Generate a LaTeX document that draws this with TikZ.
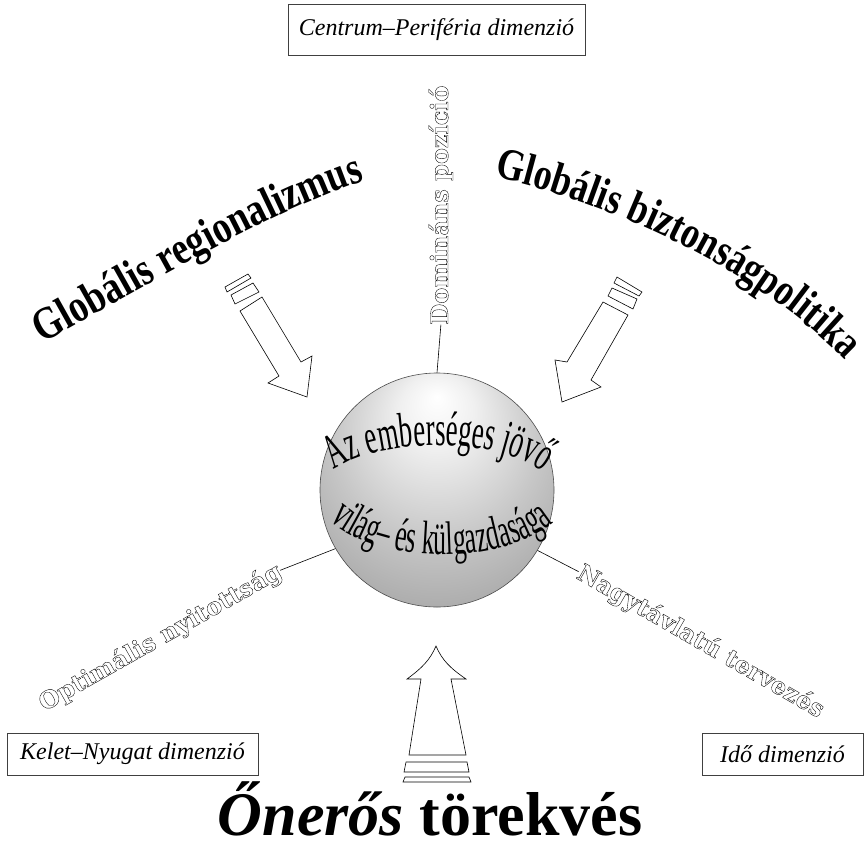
\documentclass[tikz,border=0pt]{standalone}
\usepackage{fontspec}
\setmainfont{Liberation Serif}
\newfontfamily\outfont{DejaVu Serif}
\newfontfamily\sphfnt[FakeStretch=0.55]{Liberation Serif}
\newfontfamily\bigfam[FakeStretch=0.8]{Liberation Serif}
\usetikzlibrary{decorations.text}
\newcommand\outl[1]{\special{pdf:literal direct 1 Tr 0.35 w}#1\special{pdf:literal direct 0 Tr}}
\newcommand\bgfnt{\bigfam\bfseries\fontsize{46}{48}\selectfont}
\newcommand\bgfntb{\bigfam\bfseries\fontsize{45}{48}\selectfont}
\newcommand\sphtxt{\sphfnt\fontsize{49}{50}\selectfont}
\newcommand\sphtxtb{\sphfnt\fontsize{47}{50}\selectfont}
\pgfdeclareradialshading{sphshade}{\pgfpoint{0bp}{20bp}}{color(0bp)=(white); color(8bp)=(black!6); color(22bp)=(black!22); color(38bp)=(black!38); color(50bp)=(black!55)}
\begin{document}
\begin{tikzpicture}[x=1pt,y=-1pt,
  dimbox/.style={draw=black!75, line width=0.6pt, inner sep=0pt, font=\fontsize{24}{28}\selectfont\itshape},
  outlab/.style={inner sep=0pt, font=\outfont\bfseries\fontsize{24}{30}\selectfont},
  arrowshape/.style={draw=black, line width=0.6pt, fill=white, line join=miter},
  conn/.style={draw=black, line width=0.6pt}]
\useasboundingbox (0,0) rectangle (867,849);

% dimension boxes
\node[dimbox, minimum width=297pt, minimum height=51pt] (cp) at (436.5,29.5) {Centrum–Periféria dimenzió};
\node[dimbox, minimum width=251pt, minimum height=42pt] (kn) at (132.5,754) {Kelet–Nyugat dimenzió};
\node[dimbox, minimum width=161pt, minimum height=42pt] (ido) at (782.5,754) {Idő dimenzió};

% big curved labels
\path[decorate, decoration={text along path, text align=center,
  text={|\bgfnt|Globális regionalizmus}}]
  (36,347) .. controls (140,290) and (270,210) .. (372,178);
\path[decorate, decoration={text along path, text align=center,
  text={|\bgfntb|Globális biztonságpolitika}}]
  (489,176) .. controls (595,198) and (752,262) .. (849,364);

% arrows
\draw[arrowshape] (262,297) -- (301,362) -- (312,356) -- (307,397) -- (268,383) -- (279,376) -- (240,311) -- cycle;
\draw[arrowshape] (231,295) -- (253,283) -- (259,292) -- (235,304) -- cycle;
\draw[arrowshape] (225,287) -- (248,274) -- (251,278) -- (227,292) -- cycle;

\draw[arrowshape] (603,302) -- (567,362) -- (555,360) -- (562,402) -- (601,387) -- (591,380) -- (628,315) -- cycle;
\draw[arrowshape] (612,288) -- (637,299) -- (633,309) -- (608,296) -- cycle;
\draw[arrowshape] (617,277) -- (642,292) -- (639,296) -- (614,283) -- cycle;

\draw[arrowshape] (421,679) -- (407,679) .. controls (422,668) and (430,660) .. (436,646)
  .. controls (442,660) and (450,668) .. (466,679) -- (451,679) -- (466,755) -- (409,755) -- cycle;
\draw[arrowshape] (406,762) -- (467,762) -- (469,772) -- (404,772) -- cycle;
\draw[arrowshape] (405,777) -- (469,777) -- (471,782) -- (403,782) -- cycle;

% sphere
\node[circle, shading=sphshade, draw=black!70, line width=0.6pt, minimum size=234pt, inner sep=0pt] (sph) at (437,490) {};
\path[decorate, decoration={text along path, text align=center,
  text={|\sphtxt|Az emberséges jövő}}]
  (331,472) .. controls (378,436) and (500,436) .. (546,474);
\path[decorate, decoration={text along path, text align=center,
  text={|\sphtxtb|világ– és külgazdasága}}]
  (329,520) .. controls (380,566) and (500,566) .. (554,522);

% bottom label
\node[anchor=base, inner sep=0pt, font=\bfseries\fontsize{62}{66}\selectfont] (oner) at (430,835) {\textit{Őnerős} törekvés};

% outline labels
\node[outlab, rotate=90, anchor=base] (dom) at (448,205) {\outl{Domináns pozíció}};
\node[outlab, rotate=29.5, anchor=base] (opt) at (164,644) {\outl{Optimális nyitottság}};
\node[outlab, rotate=-30, anchor=base] (nag) at (697,648) {\outl{Nagytávlatú tervezés}};

% connectors
\draw[conn] (sph.north) -- (dom.west);
\draw[conn] (sph.210) -- (opt.east);
\draw[conn] (sph.329) -- (nag.west);
\end{tikzpicture}
\end{document}
